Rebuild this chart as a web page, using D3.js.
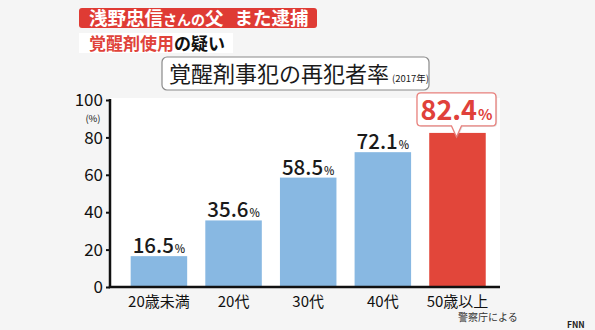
<!DOCTYPE html>
<html><head><meta charset="utf-8">
<script src="https://cdn.jsdelivr.net/npm/d3@7"></script>
<style>
html,body{margin:0;padding:0;background:#f5f5f5;}
svg{display:block;}
text{font-family:"Noto Sans CJK JP","Noto Sans",sans-serif;}
</style></head>
<body>
<script>
const categories = ["20歳未満","20代","30代","40代","50歳以上"];
const values = [16.5, 35.6, 58.5, 72.1, 82.4];
const yTicks = [0, 20, 40, 60, 80, 100];
const highlightIndex = 4;

const W = 595, H = 330;
const svg = d3.select("body").append("svg").attr("width", W).attr("height", H);
svg.append("rect").attr("width", W).attr("height", H).attr("fill", "#f5f5f5");

const x = d3.scaleBand().domain(categories).range([121.6, 494.8]).paddingInner(0.243).paddingOuter(0.1215);
const y = d3.scaleLinear().domain([0, 100]).range([287, 100]);

// headline boxes
svg.append("rect").attr("x", 79).attr("y", 8).attr("width", 238).attr("height", 20).attr("rx", 3).attr("fill", "#df3b34");
const h1 = svg.append("text").attr("x", 89).attr("y", 25).attr("fill", "#fff").attr("font-weight", 700).attr("font-size", 18.5);
h1.append("tspan").text("浅野忠信");
h1.append("tspan").attr("font-size", 14).text("さんの");
h1.append("tspan").text("父");
h1.append("tspan").attr("dx", 11).text("また逮捕");

svg.append("rect").attr("x", 79).attr("y", 33).attr("width", 154).attr("height", 20).attr("fill", "#ffffff");
const h2 = svg.append("text").attr("x", 89).attr("y", 50).attr("font-weight", 700).attr("font-size", 17);
h2.append("tspan").attr("fill", "#e0433a").text("覚醒剤使用");
h2.append("tspan").attr("fill", "#111").text("の疑い");

// title box
svg.append("rect").attr("x", 162).attr("y", 57).attr("width", 267).attr("height", 33).attr("rx", 5)
  .attr("fill", "#fff").attr("stroke", "#8a8a8a").attr("stroke-width", 1.2);
const t = svg.append("text").attr("x", 169).attr("y", 82).attr("fill", "#1a1a1a").attr("font-size", 22);
t.append("tspan").text("覚醒剤事犯の再犯者率");
t.append("tspan").attr("font-size", 9.5).attr("dx", 3).text("(2017年)");

// plot area
svg.append("rect").attr("x", 110).attr("y", 98).attr("width", 390).attr("height", 189).attr("fill", "#fff");

// bars
svg.selectAll("rect.bar").data(values).enter().append("rect").attr("class", "bar")
  .attr("x", (d, i) => x(categories[i]))
  .attr("y", d => y(d))
  .attr("width", x.bandwidth())
  .attr("height", d => y(0) - y(d))
  .attr("fill", (d, i) => i === highlightIndex ? "#e2463a" : "#88b8e2");

// value labels (non-highlight)
values.forEach((v, i) => {
  if (i === highlightIndex) return;
  const cx = x(categories[i]) + x.bandwidth() / 2;
  const tx = svg.append("text").attr("x", cx).attr("y", y(v) - 3).attr("text-anchor", "middle")
    .attr("fill", "#1a1a1a").attr("font-weight", 500);
  tx.append("tspan").attr("font-size", 20.5).text(v.toFixed(1));
  tx.append("tspan").attr("font-size", 11).attr("dx", 1).text("%");
});

// callout for highlight
{
  const v = values[highlightIndex];
  const cx = x(categories[highlightIndex]) + x.bandwidth() / 2 - 1;
  const bw = 79, bh = 33;
  const by = y(v) - 40, bx = cx - bw / 2;
  const r = 4, tipY = y(v) + 4, half = 5;
  const p = `M${bx + r},${by} H${bx + bw - r} Q${bx + bw},${by} ${bx + bw},${by + r} V${by + bh - r} Q${bx + bw},${by + bh} ${bx + bw - r},${by + bh}` +
    ` H${cx + half} L${cx},${tipY} L${cx - half},${by + bh} H${bx + r} Q${bx},${by + bh} ${bx},${by + bh - r} V${by + r} Q${bx},${by} ${bx + r},${by} Z`;
  svg.append("path").attr("d", p).attr("transform", "translate(1.2,1.2)").attr("opacity", 0.25).attr("fill", "#999");
  svg.append("path").attr("d", p).attr("fill", "#fff").attr("stroke", "#e8807c").attr("stroke-width", 1.3);
  const tx = svg.append("text").attr("x", cx).attr("y", by + 27).attr("text-anchor", "middle")
    .attr("fill", "#e0413a").attr("font-weight", 700);
  tx.append("tspan").attr("font-size", 27).text(v.toFixed(1));
  tx.append("tspan").attr("font-size", 15).attr("dx", 1).text("%");
}

// y axis
const yAxis = d3.axisLeft(y).tickValues(yTicks).tickSize(4).tickPadding(3);
const gy = svg.append("g").attr("transform", "translate(110,0)").call(yAxis);
gy.select(".domain").remove();
gy.selectAll(".tick line").attr("stroke", "#111").attr("stroke-width", 2);
gy.selectAll(".tick text").attr("font-size", 17).attr("fill", "#111")
  .style("font-family", '"Noto Sans CJK JP",sans-serif').attr("dy", "0.34em");
svg.append("line").attr("x1", 110).attr("x2", 110).attr("y1", 99).attr("y2", 288).attr("stroke", "#111").attr("stroke-width", 2.5);
svg.append("text").attr("x", 93).attr("y", 122).attr("text-anchor", "middle").attr("font-size", 9.5).attr("fill", "#111").text("(%)");

// x axis
const xAxis = d3.axisBottom(x).tickSize(0).tickPadding(9);
const gx = svg.append("g").attr("transform", "translate(0,287)").call(xAxis);
gx.select(".domain").remove();
gx.selectAll(".tick text").attr("font-size", 15).attr("fill", "#111")
  .style("font-family", '"Noto Sans CJK JP",sans-serif');
svg.append("line").attr("x1", 108.8).attr("x2", 500).attr("y1", 287).attr("y2", 287).attr("stroke", "#111").attr("stroke-width", 2.5);

// source
svg.append("text").attr("x", 458).attr("y", 321).attr("font-size", 10).attr("fill", "#333").text("警察庁による");
// logo
svg.append("text").attr("x", 567).attr("y", 328).attr("font-size", 8.5).attr("font-weight", 700).attr("fill", "#222").text("FNN");
</script>
</body></html>
